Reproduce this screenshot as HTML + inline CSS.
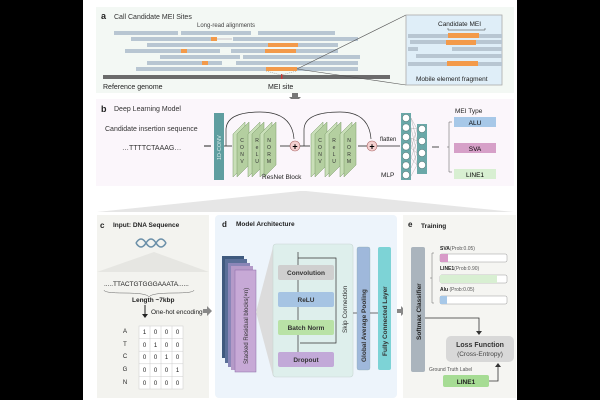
<!DOCTYPE html>
<html><head><meta charset="utf-8"><style>
html,body{margin:0;padding:0;background:#000;}
svg{display:block;font-family:"Liberation Sans",sans-serif;}
</style></head><body>
<svg width="600" height="400" viewBox="0 0 600 400" xmlns="http://www.w3.org/2000/svg">
<rect x="83" y="0" width="434" height="400" fill="#fff"/>
<!-- panel a -->
<rect x="96" y="7" width="418" height="86" fill="#f3f8f4"/>
<text x="101" y="19" font-size="9" font-weight="bold" fill="#222">a</text>
<text x="114" y="19" font-size="7" fill="#333">Call Candidate MEI Sites</text>
<text x="197" y="27" font-size="6" fill="#444">Long-read alignments</text>
<g fill="#b8c6d2">
<rect x="114" y="31" width="64" height="4"/><rect x="181" y="31" width="70" height="4"/><rect x="258" y="31" width="77" height="4"/>
<rect x="131" y="37" width="80" height="4"/><rect x="233" y="37" width="125" height="4"/>
<rect x="147" y="43" width="191" height="4"/>
<rect x="125" y="49" width="95" height="4"/><rect x="231" y="49" width="107" height="4"/>
<rect x="160" y="55" width="80" height="4"/><rect x="243" y="55" width="117" height="4"/>
<rect x="147" y="61" width="75" height="4"/><rect x="236" y="61" width="122" height="4"/>
<rect x="136" y="67" width="222" height="4"/>
</g>
<rect x="217" y="38" width="15" height="2" fill="#ddd"/>
<g fill="#f39a4a">
<rect x="211" y="37" width="6" height="4"/><rect x="268" y="43" width="30" height="4"/>
<rect x="181" y="49" width="6" height="4"/><rect x="265" y="49" width="31" height="4"/>
<rect x="202" y="61" width="6" height="4"/><rect x="266" y="67" width="31" height="4"/>
</g>
<rect x="103" y="75" width="287" height="4" fill="#6b6b6b"/>
<rect x="281" y="74" width="1.5" height="5" fill="#c33"/>
<path d="M266 71 L281 75 L297 71" stroke="#999" stroke-dasharray="1,1" fill="none" stroke-width="0.6"/>
<text x="103" y="89" font-size="7" fill="#222">Reference genome</text>
<text x="268" y="89" font-size="7" fill="#222">MEI site</text>
<line x1="297" y1="69" x2="406" y2="15" stroke="#555" stroke-width="0.6"/>
<line x1="297" y1="69" x2="406" y2="85" stroke="#555" stroke-width="0.6"/>
<rect x="406" y="15" width="96" height="70" fill="#dfeef8" stroke="#aaa" stroke-width="0.8"/>
<text x="438" y="26" font-size="6.5" fill="#222">Candidate MEI</text>
<path d="M448 28 v2 h37 v-2" stroke="#333" fill="none" stroke-width="0.5"/>
<g fill="#b8c6d2">
<rect x="408" y="34" width="94" height="4"/><rect x="410" y="40" width="92" height="4"/>
<rect x="408" y="47" width="10" height="4"/><rect x="452" y="47" width="50" height="4"/>
<rect x="416" y="54" width="86" height="4"/><rect x="408" y="62" width="94" height="4"/>
</g>
<rect x="448" y="33" width="31" height="5" fill="#f39a4a"/>
<rect x="446" y="40" width="30" height="5" fill="#f39a4a"/>
<rect x="447" y="61" width="31" height="5" fill="#f39a4a"/>
<text x="416" y="81" font-size="6.5" fill="#222">Mobile element fragment</text>
<!-- gray arrow -->
<path d="M292 93 h6 v4 h3 l-6 6 l-6 -6 h3 z" fill="#777"/>
<!-- panel b -->
<rect x="96" y="99" width="418" height="87" fill="#fbf6fb"/>
<text x="101" y="112" font-size="9" font-weight="bold" fill="#222">b</text>
<text x="114" y="111" font-size="7" fill="#333">Deep Learning Model</text>
<text x="105" y="131" font-size="7" fill="#333">Candidate insertion sequence</text>
<text x="122" y="150" font-size="7" fill="#333">…TTTTCTAAAG…</text>
<line x1="204" y1="146" x2="211" y2="146" stroke="#222" stroke-width="1"/>
<rect x="214" y="113" width="10" height="67" fill="#5f9ea0"/>
<text transform="translate(221,160) rotate(-90)" font-size="5.5" fill="#dfeeee">1D-CONV</text>
<line x1="224" y1="146" x2="232" y2="146" stroke="#222" stroke-width="0.8"/>
<g stroke="#7a9a6a" stroke-width="0.5">
<g id="slab">
<polygon points="233,134 245,122 245,165 233,177" fill="#c9dfb8"/>
<polygon points="237,134 249,122 249,165 237,177" fill="#b4cfa0"/>
</g>
<use href="#slab" x="15"/><use href="#slab" x="27"/>
<use href="#slab" x="78"/><use href="#slab" x="92"/><use href="#slab" x="107"/>
</g>
<g font-size="5" fill="#333" text-anchor="middle">
<text x="242" y="142">C</text><text x="242" y="149">O</text><text x="242" y="156">N</text><text x="242" y="163">V</text>
<text x="257" y="142">R</text><text x="257" y="149">e</text><text x="257" y="156">L</text><text x="257" y="163">U</text>
<text x="269" y="142">N</text><text x="269" y="149">O</text><text x="269" y="156">R</text><text x="269" y="163">M</text>
<text x="320" y="142">C</text><text x="320" y="149">O</text><text x="320" y="156">N</text><text x="320" y="163">V</text>
<text x="334" y="142">R</text><text x="334" y="149">e</text><text x="334" y="156">L</text><text x="334" y="163">U</text>
<text x="349" y="142">N</text><text x="349" y="149">O</text><text x="349" y="156">R</text><text x="349" y="163">M</text>
</g>
<line x1="280" y1="146" x2="290" y2="146" stroke="#222" stroke-width="0.8"/>
<circle cx="295" cy="146" r="5" fill="#f4d0d0" stroke="#a66" stroke-width="0.6"/>
<text x="295" y="149.5" font-size="9" text-anchor="middle" font-weight="bold">+</text>
<line x1="300" y1="146" x2="310" y2="146" stroke="#222" stroke-width="0.8"/>
<path d="M226 146 V130 Q226 112 260 112 Q292 112 294 139" fill="none" stroke="#333" stroke-width="0.7"/>
<path d="M304 146 V130 Q304 112 340 112 Q369 112 371 139" fill="none" stroke="#333" stroke-width="0.7"/>
<line x1="358" y1="146" x2="367" y2="146" stroke="#222" stroke-width="0.8"/>
<circle cx="372" cy="146" r="5" fill="#f4d0d0" stroke="#a66" stroke-width="0.6"/>
<text x="372" y="149.5" font-size="9" text-anchor="middle" font-weight="bold">+</text>
<line x1="377" y1="146" x2="400" y2="146" stroke="#222" stroke-width="0.8"/>
<text x="380" y="141" font-size="6" fill="#222">flatten</text>
<text x="262" y="179" font-size="6.5" fill="#222">ResNet Block</text>
<text x="381" y="177" font-size="6.5" fill="#222">MLP</text>
<rect x="401" y="113" width="10" height="67" fill="#6aa8a8"/>
<rect x="417" y="124" width="10" height="50" fill="#6aa8a8"/>
<g stroke="#888" stroke-width="0.3">
<path d="M411 118 L417 129 M411 118 L417 141 M411 128 L417 129 M411 128 L417 153 M411 138 L417 141 M411 138 L417 165 M411 148 L417 129 M411 148 L417 153 M411 158 L417 141 M411 158 L417 165 M411 168 L417 153 M411 176 L417 165"/>
</g>
<g fill="#fff" stroke="#355" stroke-width="0.4">
<circle cx="406" cy="118" r="3.6"/><circle cx="406" cy="127.5" r="3.6"/><circle cx="406" cy="137" r="3.6"/><circle cx="406" cy="146.5" r="3.6"/><circle cx="406" cy="156" r="3.6"/><circle cx="406" cy="165.5" r="3.6"/><circle cx="406" cy="175" r="3.6"/>
<circle cx="422" cy="129" r="3.6"/><circle cx="422" cy="141" r="3.6"/><circle cx="422" cy="153" r="3.6"/><circle cx="422" cy="165" r="3.6"/>
</g>
<line x1="432" y1="147" x2="439" y2="147" stroke="#222" stroke-width="0.8"/>
<path d="M452 122 h-3 v50 h3 M449 147 h-2" fill="none" stroke="#555" stroke-width="0.5"/>
<text x="455" y="113" font-size="6.5" fill="#222">MEI Type</text>
<rect x="454" y="117" width="42" height="10" fill="#a7c8e8"/><text x="475" y="125" font-size="6.5" text-anchor="middle">ALU</text>
<rect x="454" y="143" width="42" height="10" fill="#d6a0c8"/><text x="475" y="151" font-size="6.5" text-anchor="middle">SVA</text>
<rect x="454" y="169" width="42" height="10" fill="#d8efd2"/><text x="475" y="177" font-size="6.5" text-anchor="middle">LINE1</text>
<!-- trapezoid -->
<polygon points="300,191 306,191 514,212 97,212" fill="#e6e6e6"/>
<!-- panel c -->
<rect x="97" y="215" width="112" height="183" fill="#f3f3ef"/>
<text x="100" y="228" font-size="8" font-weight="bold" fill="#222">c</text>
<text x="113" y="227" font-size="6.5" font-weight="bold" fill="#222">Input: DNA Sequence</text>
<path d="M136 243 q5 -8 10 0 t10 0 t10 0 M136 243 q5 8 10 0 t10 0 t10 0" stroke="#6a8fa8" stroke-width="1.6" fill="none"/>
<polygon points="154,252 209,272 97,272" fill="#e6e6e2"/>
<text x="104" y="286" font-size="6.5" fill="#222">.....TTACTGTGGGAAATA......</text>
<path d="M104 290 q0 3 20 3 q23 0 25 4 q2 -4 25 -4 q20 0 20 -3" fill="none" stroke="#666" stroke-width="0.5"/>
<text x="132" y="302" font-size="6.5" font-weight="bold" fill="#222">Length ~7kbp</text>
<line x1="145" y1="305" x2="145" y2="316" stroke="#222" stroke-width="1"/>
<path d="M142 314 l3 4 l3 -4 z" fill="#222"/>
<text x="151" y="314" font-size="6.5" fill="#222">One-hot encoding</text>
<g font-size="6" fill="#222" text-anchor="middle">
<text x="125" y="333">A</text><text x="125" y="346">T</text><text x="125" y="358">C</text><text x="125" y="371">G</text><text x="125" y="384">N</text>
</g>
<g fill="#fff" stroke="#ccc" stroke-width="0.5">
<rect x="139" y="326" width="44" height="63"/>
</g>
<g stroke="#ccc" stroke-width="0.5">
<path d="M150 326 V389 M161 326 V389 M172 326 V389 M139 338.6 H183 M139 351.2 H183 M139 363.8 H183 M139 376.4 H183"/>
</g>
<g font-size="6" fill="#222" text-anchor="middle">
<text x="144.5" y="334">1</text><text x="155.5" y="334">0</text><text x="166.5" y="334">0</text><text x="177.5" y="334">0</text>
<text x="144.5" y="347">0</text><text x="155.5" y="347">1</text><text x="166.5" y="347">0</text><text x="177.5" y="347">0</text>
<text x="144.5" y="359">0</text><text x="155.5" y="359">0</text><text x="166.5" y="359">1</text><text x="177.5" y="359">0</text>
<text x="144.5" y="372">0</text><text x="155.5" y="372">0</text><text x="166.5" y="372">0</text><text x="177.5" y="372">1</text>
<text x="144.5" y="385">0</text><text x="155.5" y="385">0</text><text x="166.5" y="385">0</text><text x="177.5" y="385">0</text>
</g>
<path d="M203 309 h4 v-3 l5 5 l-5 5 v-3 h-4 z" fill="#888"/>
<!-- panel d -->
<rect x="215" y="215" width="182" height="183" rx="4" fill="#edf4fb"/>
<text x="222" y="227" font-size="8" font-weight="bold" fill="#222">d</text>
<text x="236" y="226" font-size="6.5" font-weight="bold" fill="#222">Model Architecture</text>
<rect x="222" y="256" width="22" height="102" fill="#3f5a7e"/>
<rect x="225" y="259" width="22" height="104" fill="#5a6f98"/>
<rect x="228" y="263" width="22" height="104" fill="#8a86b8"/>
<rect x="231" y="266" width="22" height="104" fill="#b49ac8"/>
<rect x="235" y="270" width="21" height="102" fill="#c7a9d6" stroke="#8a6aa8" stroke-width="0.5"/>
<text transform="translate(248,364) rotate(-90)" font-size="6" fill="#333">Stacked Residual blocks(×n)</text>
<polygon points="256,312 273,247 273,376" fill="#dcdcdc"/>
<rect x="273" y="244" width="80" height="133" rx="3" fill="#deefec" stroke="#c9d6d3" stroke-width="0.6"/>
<rect x="278" y="265" width="56" height="15" rx="2" fill="#cfcfcf"/><text x="306" y="275" font-size="6.5" font-weight="bold" text-anchor="middle" fill="#333">Convolution</text>
<rect x="278" y="292" width="56" height="15" rx="2" fill="#a6c4e3"/><text x="306" y="302" font-size="6.5" font-weight="bold" text-anchor="middle" fill="#333">ReLU</text>
<rect x="278" y="320" width="56" height="15" rx="2" fill="#b9e2a6"/><text x="306" y="330" font-size="6.5" font-weight="bold" text-anchor="middle" fill="#333">Batch Norm</text>
<rect x="278" y="352" width="56" height="15" rx="2" fill="#c2a9d8"/><text x="306" y="362" font-size="6.5" font-weight="bold" text-anchor="middle" fill="#333">Dropout</text>
<g stroke="#333" stroke-width="0.7" fill="none">
<path d="M298 252 V265 M298 258 H336 V343 H300 M298 280 V292 M298 307 V320 M298 335 V352"/>
</g>
<text transform="translate(347,333) rotate(-90)" font-size="6.5" fill="#333">Skip Connection</text>
<line x1="353" y1="313" x2="357" y2="313" stroke="#333" stroke-width="0.7"/>
<rect x="357" y="247" width="13" height="123" rx="2" fill="#9fb8db" stroke="#8aa" stroke-width="0.3"/>
<text transform="translate(366,362) rotate(-90)" font-size="6.5" font-weight="bold" fill="#333">Global Average Pooling</text>
<line x1="370" y1="313" x2="378" y2="313" stroke="#333" stroke-width="0.7"/>
<rect x="378" y="247" width="13" height="123" rx="2" fill="#7dd3d6"/>
<text transform="translate(387,356) rotate(-90)" font-size="6.5" font-weight="bold" fill="#333">Fully Connected Layer</text>
<path d="M397 309 h4 v-3 l5 5 l-5 5 v-3 h-4 z" fill="#888"/>
<!-- panel e -->
<rect x="403" y="215" width="113" height="183" fill="#f5f5f2"/>
<text x="408" y="227" font-size="8" font-weight="bold" fill="#222">e</text>
<text x="421" y="228" font-size="6.5" font-weight="bold" fill="#222">Training</text>
<rect x="411" y="247" width="14" height="125" rx="2" fill="#aab4bd"/>
<text transform="translate(421,340) rotate(-90)" font-size="6.5" font-weight="bold" fill="#222">Softmax Classifier</text>
<path d="M434 253 h-2 v50 h2 M432 278 h-2" stroke="#666" fill="none" stroke-width="0.5"/>
<text x="440" y="250" font-size="5" fill="#555"><tspan font-weight="bold" fill="#222">SVA</tspan>(Prob:0.05)</text>
<rect x="440" y="254" width="67" height="8" rx="1.5" fill="#fff" stroke="#999" stroke-width="0.5"/>
<rect x="440" y="254" width="8" height="8" fill="#d89ac8"/>
<text x="440" y="270" font-size="5" fill="#555"><tspan font-weight="bold" fill="#222">LINE1</tspan>(Prob:0.90)</text>
<rect x="440" y="275" width="67" height="8" rx="1.5" fill="#fff" stroke="#999" stroke-width="0.5"/>
<rect x="440" y="275" width="57" height="8" fill="#d8efd2"/>
<text x="440" y="291" font-size="5" fill="#555"><tspan font-weight="bold" fill="#222">Alu</tspan> (Prob:0.05)</text>
<rect x="440" y="296" width="67" height="8" rx="1.5" fill="#fff" stroke="#999" stroke-width="0.5"/>
<rect x="440" y="296" width="7" height="8" fill="#a7c8e8"/>
<path d="M425 318 H479 V332" stroke="#333" stroke-width="0.8" fill="none"/>
<path d="M476 331 l3 4 l3 -4 z" fill="#333"/>
<rect x="446" y="336" width="68" height="26" rx="5" fill="#d8d8d8"/>
<text x="480" y="347" font-size="7" font-weight="bold" text-anchor="middle" fill="#333">Loss Function</text>
<text x="480" y="356" font-size="6.5" text-anchor="middle" fill="#444">(Cross-Entropy)</text>
<text x="429" y="371" font-size="5" fill="#555">Ground Truth Label</text>
<rect x="443" y="375" width="46" height="12" rx="2" fill="#a6dc94"/>
<text x="466" y="384" font-size="6.5" font-weight="bold" text-anchor="middle" fill="#222">LINE1</text>
<path d="M489 381 H498 V366" stroke="#333" stroke-width="0.8" fill="none"/>
<path d="M495 367 l3 -4 l3 4 z" fill="#333"/>
</svg>
</body></html>
